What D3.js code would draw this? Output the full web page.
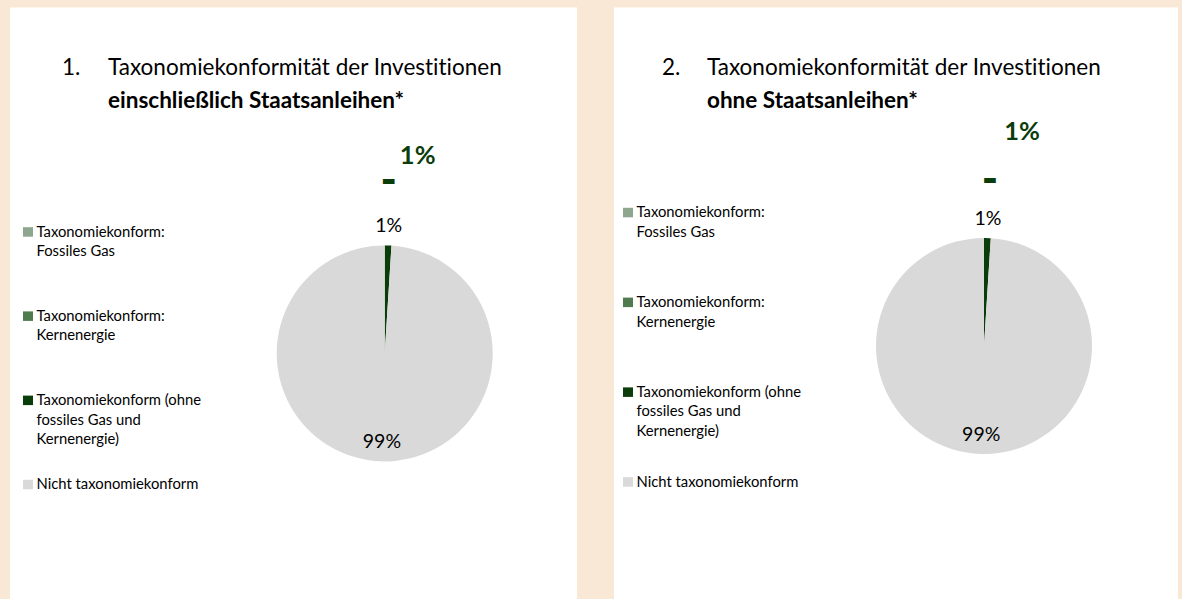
<!DOCTYPE html>
<html lang="de">
<head>
<meta charset="utf-8">
<script src="https://cdn.jsdelivr.net/npm/d3@7/dist/d3.min.js"></script>
<style>
  html, body { margin: 0; padding: 0; background: #FAE8D7; }
  svg { display: block; }
  text { font-family: Lato, "Noto Sans", sans-serif; fill: #000; font-variant-ligatures: none; font-feature-settings: "liga" 0, "clig" 0; }
</style>
</head>
<body>
<svg id="chart" width="1182" height="599"></svg>
<script>
// Categories shown in both pies (legend order = slice order)
const categories = [
  "Taxonomiekonform: Fossiles Gas",
  "Taxonomiekonform: Kernenergie",
  "Taxonomiekonform (ohne fossiles Gas und Kernenergie)",
  "Nicht taxonomiekonform"
];
// Legend text, wrapped as in the legend
const legendLines = [
  ["Taxonomiekonform:", "Fossiles Gas"],
  ["Taxonomiekonform:", "Kernenergie"],
  ["Taxonomiekonform (ohne", "fossiles Gas und", "Kernenergie)"],
  ["Nicht taxonomiekonform"]
];
// Shares in percent
const valuesInclSovereign = [0, 0, 1, 99];
const valuesExclSovereign = [0, 0, 1, 99];
// Chart titles: number, regular line, bold line
const titleNumbers = ["1.", "2."];
const titleLine1 = ["Taxonomiekonformität der Investitionen", "Taxonomiekonformität der Investitionen"];
const titleLine2 = ["einschließlich Staatsanleihen*", "ohne Staatsanleihen*"];

const colors = ["#8DA68D", "#4F7B4F", "#0B3D0B", "#D9D9D9"];

const panels = [
  { x: 10, w: 567, numX: 62, textX: 108, cx: 384.7, cy: 353.4,
    legX: 23, legY: 236.7, legStep: 84.2,
    totalDx: 33, totalDy: -198, dashDx: 4, dashDy: -158,
    values: valuesInclSovereign },
  { x: 614, w: 564, numX: 662, textX: 707, cx: 984, cy: 346,
    legX: 623, legY: 217.3, legStep: 89.8,
    totalDx: 38, totalDy: -215, dashDx: 6, dashDy: -152,
    values: valuesExclSovereign }
];

const svg = d3.select("#chart");
const pct = d3.format(".0%");
const radius = 108;
const color = d3.scaleOrdinal().domain(categories).range(colors);
const pie = d3.pie().sort(null).value(d => d.value);
const arc = d3.arc().innerRadius(0).outerRadius(radius);
const outerLabelArc = d3.arc().innerRadius(128).outerRadius(128);
const innerLabelArc = d3.arc().innerRadius(88).outerRadius(88);

panels.forEach((p, i) => {
  const g = svg.append("g");

  // white card
  g.append("rect")
    .attr("x", p.x).attr("y", 7.5)
    .attr("width", p.w).attr("height", 599 - 7.5)
    .attr("fill", "#fff");

  // title
  g.append("text").attr("x", p.numX).attr("y", 75)
    .attr("font-size", 22.5).text(titleNumbers[i]);
  g.append("text").attr("x", p.textX).attr("y", 75)
    .attr("font-size", 22.5).text(titleLine1[i]);
  g.append("text").attr("x", p.textX).attr("y", 108)
    .attr("font-size", 22.5).attr("font-weight", 700).text(titleLine2[i]);

  // legend
  const leg = g.selectAll(".leg").data(categories).join("g")
    .attr("transform", (d, k) => `translate(${p.legX},${p.legY + k * p.legStep})`);
  leg.append("rect").attr("x", 0).attr("y", -9.5).attr("width", 10).attr("height", 9.5)
    .attr("fill", d => color(d));
  leg.each(function(d, k) {
    const t = d3.select(this).append("text").attr("x", 13.5).attr("y", 0).attr("font-size", 14.8);
    legendLines[k].forEach((line, j) => {
      t.append("tspan").attr("x", 13.5).attr("dy", j === 0 ? 0 : 19.5).text(line);
    });
  });

  // pie
  const data = categories.map((c, k) => ({ name: c, value: p.values[k] }));
  const arcs = pie(data);
  const pg = g.append("g").attr("transform", `translate(${p.cx},${p.cy})`);
  pg.selectAll("path").data(arcs.filter(a => a.data.value > 0)).join("path")
    .attr("d", arc)
    .attr("fill", d => color(d.data.name));

  // value labels for visible slices
  pg.selectAll(".val").data(arcs.filter(a => a.data.value > 0)).join("text")
    .attr("class", "val")
    .attr("transform", d => {
      const c = (d.data.value < 5 ? outerLabelArc : innerLabelArc).centroid(d);
      return `translate(${c[0]},${c[1]})`;
    })
    .attr("text-anchor", "middle").attr("dy", "0.35em")
    .attr("font-size", 19.5)
    .text(d => pct(d.data.value / 100));

  // labels of empty slices
  const zeros = arcs.filter(a => a.data.value === 0);
  if (zeros.length) {
    pg.append("text")
      .attr("x", p.dashDx).attr("y", p.dashDy)
      .attr("text-anchor", "middle")
      .attr("font-size", 44).attr("font-weight", 900)
      .style("fill", colors[2])
      .text("-");
  }

  // total taxonomy-aligned share
  const aligned = d3.sum(p.values.slice(0, 3));
  pg.append("text")
    .attr("x", p.totalDx).attr("y", p.totalDy)
    .attr("text-anchor", "middle").attr("dy", "0.35em")
    .attr("font-size", 25.5).attr("font-weight", 700)
    .style("fill", colors[2])
    .text(pct(aligned / 100));
});
</script>
</body>
</html>
